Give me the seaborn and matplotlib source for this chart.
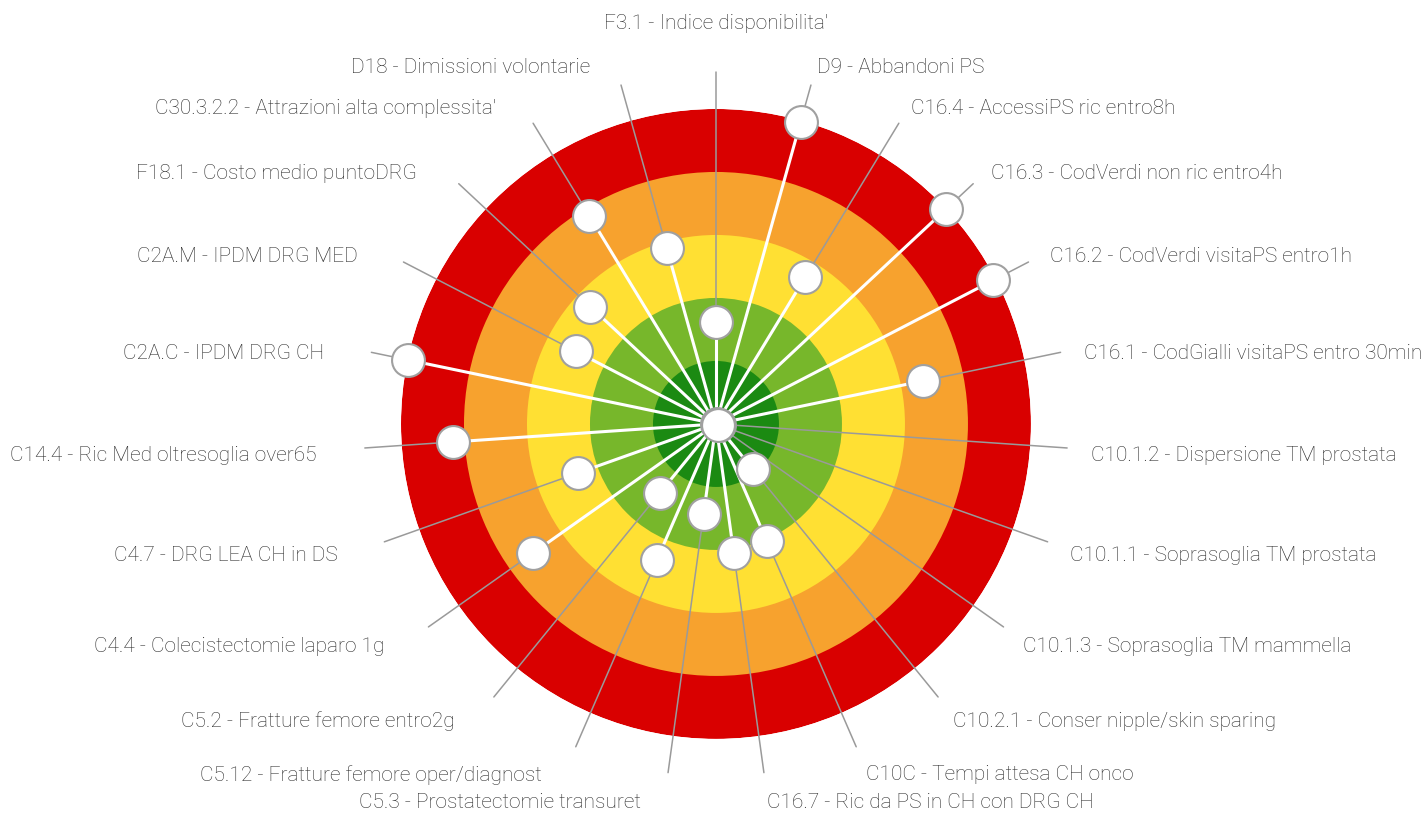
import numpy as np
import matplotlib
matplotlib.use("Agg")
import matplotlib.pyplot as plt
import matplotlib.transforms as mtransforms
import seaborn as sns
import pandas as pd

# indicatori in senso orario partendo dall'alto
labels = [
    "F3.1 - Indice disponibilita'",
    "D9 - Abbandoni PS",
    "C16.4 - AccessiPS ric entro8h",
    "C16.3 - CodVerdi non ric entro4h",
    "C16.2 - CodVerdi visitaPS entro1h",
    "C16.1 - CodGialli visitaPS entro 30min",
    "C10.1.2 - Dispersione TM prostata",
    "C10.1.1 - Soprasoglia TM prostata",
    "C10.1.3 - Soprasoglia TM mammella",
    "C10.2.1 - Conser nipple/skin sparing",
    "C10C - Tempi attesa CH onco",
    "C16.7 - Ric da PS in CH con DRG CH",
    "C5.3 - Prostatectomie transuret",
    "C5.12 - Fratture femore oper/diagnost",
    "C5.2 - Fratture femore entro2g",
    "C4.4 - Colecistectomie laparo 1g",
    "C4.7 - DRG LEA CH in DS",
    "C14.4 - Ric Med oltresoglia over65",
    "C2A.C - IPDM DRG CH",
    "C2A.M - IPDM DRG MED",
    "F18.1 - Costo medio puntoDRG",
    "C30.3.2.2 - Attrazioni alta complessita'",
    "D18 - Dimissioni volontarie",
]

# punteggio 0 (fascia esterna) - 5 (centro)
scores = [3.38, 0.02, 2.27, 0.0, 0.04, 1.65, 4.98, 4.95, 4.97, 4.08, 2.97, 2.94,
          3.56, 2.65, 3.59, 1.44, 2.67, 0.82, 0.0, 2.49, 2.27, 1.13, 2.10]

band_colors = ["#D90000", "#F7A22E", "#FFE033", "#77B72B", "#1B8A12"]

n = len(labels)
df = pd.DataFrame({"label": labels, "score": scores})
df["theta"] = np.arange(n) * 2 * np.pi / n
df["r"] = 5 - df["score"]

sns.set_style("white")
plt.rcParams["font.family"] = ["Roboto", "DejaVu Sans"]

fig = plt.figure(figsize=(14.22, 8.16), dpi=100)
ax = fig.add_axes([0.2820, 0.0944, 0.4430, 0.7721], projection="polar")
ax.set_theta_zero_location("N")
ax.set_theta_direction(-1)
ax.set_rlim(0, 5)
ax.axis("off")

# fasce del bersaglio
for i, c in enumerate(band_colors):
    ax.bar(0, 5 - i, width=2 * np.pi, bottom=0, color=c, linewidth=0, zorder=1)

r_line = 352 / 63
for _, row in df.iterrows():
    ax.plot([row.theta, row.theta], [0, r_line], color="#9a9a9a", lw=1.1,
            zorder=2, clip_on=False)
for _, row in df.iterrows():
    ax.plot([row.theta, row.theta], [0, row.r], color="white", lw=2.2,
            zorder=3, clip_on=False)

sns.scatterplot(data=df, x="theta", y="r", ax=ax, s=560, color="white",
                edgecolor="#a0a0a0", linewidth=1.5, zorder=4, clip_on=False,
                legend=False)
ax.set_xlabel("")
ax.set_ylabel("")

fs = 15
tc = "#2b2b2b"
shift_r = mtransforms.offset_copy(ax.transData, fig=fig, y=-6, units="dots")
shift_l = mtransforms.offset_copy(ax.transData, fig=fig, x=-24, y=-6, units="dots")
for _, row in df.iterrows():
    s = np.sin(row.theta)
    if abs(s) < 0.05:
        ax.text(row.theta, 400 / 63, row.label, ha="center", va="center",
                fontsize=fs, color=tc, fontweight="light", clip_on=False)
        continue
    if s > 0:
        ax.text(row.theta, 376 / 63, row.label, ha="left", va="center", fontsize=fs,
                color=tc, fontweight="light", transform=shift_r, clip_on=False)
    else:
        ax.text(row.theta, 376 / 63, row.label, ha="right", va="center", fontsize=fs,
                color=tc, fontweight="light", transform=shift_l, clip_on=False)

fig.savefig("out.png", dpi=100)
